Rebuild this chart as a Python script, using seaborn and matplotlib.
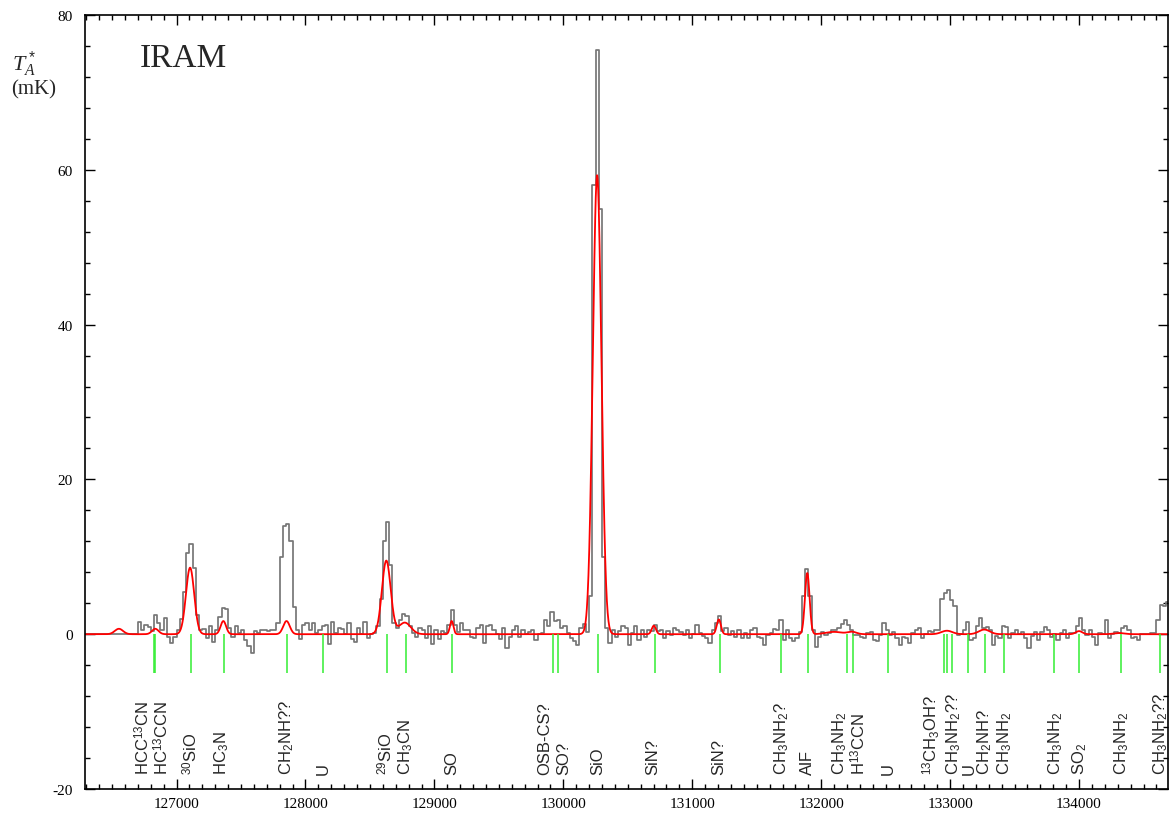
import numpy as np
import pandas as pd
import matplotlib
matplotlib.use("Agg")
import matplotlib.pyplot as plt
import seaborn as sns

# ---------------- data ----------------
CH_START = 126300.0   # MHz, start of first channel
CH_WIDTH = 25.0       # MHz
# observed spectrum (mK), 16 blank channels then 100-MHz rows of 4 channels
spectrum = [0.0] * 16 + [
    1.6, 0.6, 1.2, 0.9,     # 126700
    0.4, 2.5, 1.4, 0.5,     # 126800
    2.1, -0.4, -1.2, -0.3,  # 126900
    0.6, 2.0, 5.5, 10.5,    # 127000
    11.6, 8.5, 2.5, 0.5,    # 127100
    0.7, -0.5, 1.0, -1.0,   # 127200
    0.5, 2.2, 3.4, 3.3,     # 127300
    0.8, -0.3, 1.0, 0.2,    # 127400
    0.6, -0.8, -1.5, -2.4,  # 127500
    0.4, 0.1, 0.5, 0.6,     # 127600
    0.4, 0.5, 0.6, 1.5,     # 127700
    10.0, 14.0, 14.2, 12.0, # 127800
    3.5, 0.5, -0.6, 1.2,    # 127900
    1.4, 0.5, 1.4, 0.1,     # 128000
    0.6, 1.0, 1.2, -1.3,    # 128100
    1.6, 0.2, 0.8, 0.7,     # 128200
    0.0, 1.4, -0.6, -1.0,   # 128300
    0.8, 0.0, 1.6, -0.5,    # 128400
    0.0, 0.1, 1.0, 4.6,     # 128500
    12.0, 14.5, 9.0, 1.5,   # 128600
    0.8, 1.8, 2.6, 2.4,     # 128700
    1.0, 0.2, -0.3, 0.8,    # 128800
    0.6, -0.5, 1.0, -1.3,   # 128900
    0.5, -0.6, 0.4, 0.2,    # 129000
    1.2, 3.1, 1.2, 0.3,     # 129100
    1.4, 0.6, 0.5, -0.4,    # 129200
    -0.5, 0.8, 1.2, -1.2,   # 129300
    1.0, 1.2, 0.6, 0.0,     # 129400
    -0.6, 0.8, -1.8, -0.3,  # 129500
    0.6, 1.0, -0.3, 0.6,    # 129600
    0.0, 0.3, 0.6, -0.7,    # 129700
    0.0, 0.2, 1.8, 1.0,     # 129800
    2.9, 1.7, 1.8, 0.8,     # 129900
    1.0, 0.1, -0.5, -0.9,   # 130000
    -1.4, 0.8, 1.3, 0.3,    # 130100
    5.0, 58.0, 75.5, 55.0,  # 130200
    10.0, 0.8, -1.2, 0.6,   # 130300
    -0.3, 0.4, 1.0, 0.8,    # 130400
    -1.4, 0.1, 1.0, -0.7,   # 130500
    0.5, -0.3, 0.5, 0.4,    # 130600
    1.2, 0.4, 0.6, -0.5,    # 130700
    0.4, -0.1, 0.8, 0.6,    # 130800
    0.3, -0.1, 0.6, -0.5,   # 130900
    0.0, 1.2, 0.1, -0.2,    # 131000
    -0.5, -1.2, 0.6, 1.4,   # 131100
    2.3, 0.4, 0.8, -0.1,    # 131200
    0.4, -0.3, 0.6, -0.5,   # 131300
    0.1, -0.5, 0.6, 0.8,    # 131400
    -0.3, -0.5, -1.4, -0.1, # 131500
    0.1, 0.7, 0.5, 1.8,     # 131600
    -0.7, 0.6, -0.5, -0.9,  # 131700
    -0.5, 0.3, 5.0, 8.4,    # 131800
    5.0, 0.5, -1.6, -0.3,   # 131900
    0.3, -0.1, 0.1, 0.6,    # 132000
    0.5, 0.8, 1.3, 1.8,     # 132100
    1.2, 0.5, -0.1, -0.1,   # 132200
    -0.3, -0.5, 0.1, 0.3,   # 132300
    -0.8, -0.9, -0.1, 1.4,  # 132400
    0.6, -0.1, 0.3, -0.5,   # 132500
    -1.4, -0.3, -0.5, -1.1, # 132600
    0.1, 0.6, 0.8, -0.5,    # 132700
    0.0, 0.4, 0.3, 0.5,     # 132800
    0.5, 4.6, 5.3, 5.7,     # 132900
    4.4, 3.6, -0.1, 0.0,    # 133000
    0.6, 1.6, -0.8, -0.5,   # 133100
    1.0, 2.1, 0.8, 0.9,     # 133200
    0.6, -1.4, -0.2, -0.5,  # 133300
    1.0, 0.9, -0.5, 0.2,    # 133400
    0.6, 0.0, 0.3, -0.5,    # 133500
    -1.8, -0.2, 0.3, -0.7,  # 133600
    0.3, 0.9, 0.6, -0.3,    # 133700
    0.0, -0.7, 0.2, 0.6,    # 133800
    -0.5, 0.1, 0.2, 1.0,    # 133900
    2.1, 0.5, -0.1, 0.6,    # 134000
    -0.3, -1.4, 0.1, 0.0,   # 134100
    1.8, -0.5, 0.0, 0.3,    # 134200
    0.1, 0.8, 1.0, 0.6,     # 134300
    -0.5, -0.3, -0.7, 0.0,  # 134400
    0.0, 0.0, 0.1, 0.2,     # 134500
    1.8, 3.8, 3.6, 4.2,     # 134600
]

# model fit: Gaussian components (centre MHz, peak mK, FWHM MHz)
model_centres = [126553, 126835, 127105, 127363, 127853, 128627, 128770, 129134,
                 130262, 130702, 131206, 131892, 132100, 132240, 132975, 133265,
                 134000, 134310]
model_peaks = [0.7, 0.7, 8.6, 1.7, 1.7, 9.5, 1.5, 1.7,
               59.3, 1.1, 1.9, 7.9, 0.3, 0.3, 0.45, 0.6,
               0.4, 0.15]
model_fwhm = [75, 60, 75, 50, 60, 80, 110, 32,
              78, 38, 38, 42, 150, 80, 100, 100,
              60, 100]

# identified line frequencies (green markers)
line_freqs = [126822, 126832, 127112, 127367, 127853, 128137, 128634, 128780,
              129139, 129922, 129958, 130272, 130712, 131216, 131686, 131899,
              132199, 132246, 132520, 132955, 132979, 133018, 133142, 133269,
              133416, 133806, 134002, 134323, 134626]

label_freqs = [126735, 126882, 127107, 127349, 127853, 128137, 128621, 128776,
               129132, 129855, 130000, 130268, 130695, 131206, 131696, 131894,
               132142, 132289, 132523, 132853, 133026, 133150, 133266, 133427,
               133822, 134003, 134332, 134638]
label_texts = ['HCC$^{13}$CN', 'HC$^{13}$CCN', '$^{30}$SiO', 'HC$_3$N', 'CH$_2$NH??',
               'U', '$^{29}$SiO', 'CH$_3$CN', 'SO', 'OSB-CS?', 'SO?', 'SiO', 'SiN?',
               'SiN?', 'CH$_3$NH$_2$?', 'AlF', 'CH$_3$NH$_2$', 'H$^{13}$CCN', 'U',
               '$^{13}$CH$_3$OH?', 'CH$_3$NH$_2$??', 'U', 'CH$_2$NH?', 'CH$_3$NH$_2$',
               'CH$_3$NH$_2$', 'SO$_2$', 'CH$_3$NH$_2$', 'CH$_3$NH$_2$??']

x_ticks = [127000, 128000, 129000, 130000, 131000, 132000, 133000, 134000]
y_ticks = [-20, 0, 20, 40, 60, 80]
XLIM = (126290, 134690)
YLIM = (-20, 80)

# ---------------- style ----------------
sns.set_style("ticks")
plt.rcParams['font.family'] = ['Liberation Serif', 'DejaVu Serif']
plt.rcParams['mathtext.fontset'] = 'custom'
plt.rcParams['mathtext.rm'] = 'Liberation Sans'
plt.rcParams['mathtext.it'] = 'Liberation Serif:italic'
plt.rcParams['mathtext.bf'] = 'Liberation Sans:bold'
plt.rcParams['mathtext.sf'] = 'Liberation Sans'

fig = plt.figure(figsize=(11.71, 8.2), dpi=100)
ax = fig.add_axes([85 / 1171, 30 / 820, (1168 - 85) / 1171, (790 - 16) / 820])

# observed spectrum as steps
n = len(spectrum)
edges = CH_START + CH_WIDTH * np.arange(n + 1)
df_obs = pd.DataFrame({"freq": edges, "T": list(spectrum) + [spectrum[-1]]})
sns.lineplot(data=df_obs, x="freq", y="T", ax=ax, color="#767676", lw=1.25,
             drawstyle="steps-post", estimator=None, sort=False)

# model
fgrid = np.linspace(XLIM[0], XLIM[1], 4000)
model = np.zeros_like(fgrid)
for c, a, w in zip(model_centres, model_peaks, model_fwhm):
    model += a * np.exp(-4 * np.log(2) * (fgrid - c) ** 2 / w ** 2)
df_mod = pd.DataFrame({"freq": fgrid, "T": model})
sns.lineplot(data=df_mod, x="freq", y="T", ax=ax, color="#ff0000", lw=1.3,
             estimator=None, sort=False)

# line markers
ax.vlines(line_freqs, -5, 0, colors="#33ee33", lw=1.1)

# labels
for f, t in zip(label_freqs, label_texts):
    ax.text(f, -18, t, rotation=90, ha="center", va="bottom",
            fontsize=12, family=["Liberation Sans", "DejaVu Sans"])

ax.text(0.051, 0.934, "IRAM", transform=ax.transAxes, fontsize=24,
        ha="left", va="baseline")

fig.text(12 / 1171, 1 - 72 / 820, r"$T_A^*$", fontsize=16, ha="left", va="baseline")
fig.text(11 / 1171, 1 - 94 / 820, "(mK)", fontsize=15, ha="left", va="baseline")

ax.set_xlim(*XLIM)
ax.set_ylim(*YLIM)
ax.set_xticks(x_ticks)
ax.set_xticklabels([str(v) for v in x_ticks])
ax.set_yticks(y_ticks)
ax.set_yticklabels([str(v) for v in y_ticks])
ax.set_xticks(np.arange(126300, 134700, 100), minor=True)
ax.set_yticks(np.arange(-20, 81, 4), minor=True)
ax.tick_params(which="both", direction="in", top=True, right=True,
               labelsize=11, width=1.0, colors="black")
ax.tick_params(which="major", length=7.5)
ax.tick_params(which="minor", length=3.8)
ax.tick_params(axis="y", which="major", pad=9)
ax.tick_params(axis="x", which="major", pad=6)
ax.set_xlabel("")
ax.set_ylabel("")
for s in ax.spines.values():
    s.set_linewidth(1.2)
    s.set_color("black")

fig.savefig("out.png", dpi=100)
